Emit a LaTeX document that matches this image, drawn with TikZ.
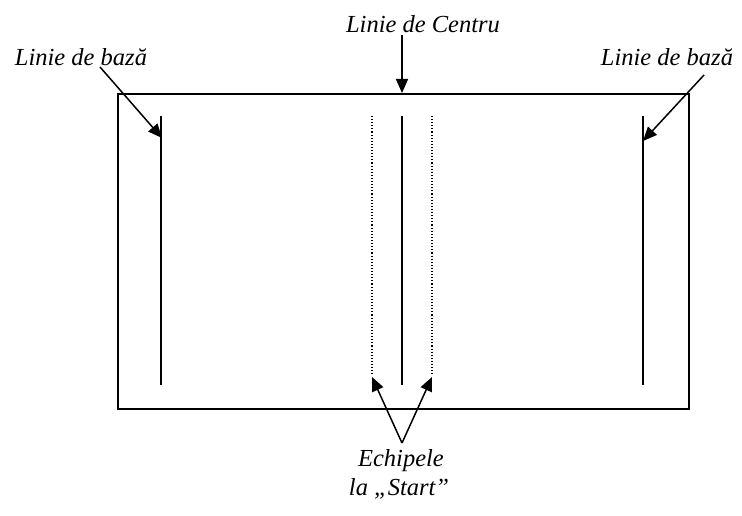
\documentclass[tikz,border=0pt]{standalone}
\usepackage{fontspec}
\setmainfont{Liberation Serif}
\usetikzlibrary{arrows.meta}
\begin{document}
\begin{tikzpicture}[x=1pt,y=-1pt,
  lbl/.style={font=\fontsize{24.5}{28}\selectfont\itshape, inner sep=0pt},
  arr/.style={line width=1.5pt, -{Triangle[length=14pt,width=12pt]}},
  solid line/.style={line width=1.6pt},
  dot line/.style={line width=1.1pt, dotted}]
\useasboundingbox (0,0) rectangle (742,516);
% field
\node[draw, line width=1.8pt, minimum width=571pt, minimum height=315pt, inner sep=0pt, anchor=north west] (field) at (117,93) {};
% lines
\coordinate (lt) at (161,116); \coordinate (lb) at (161,385);
\coordinate (rt) at (643,116); \coordinate (rb) at (643,385);
\coordinate (ct) at (402,116); \coordinate (cb) at (402,385);
\coordinate (dlt) at (372,116); \coordinate (dlb) at (372,376);
\coordinate (drt) at (432,116); \coordinate (drb) at (432,376);
\draw[solid line] (lt) -- (lb);
\draw[solid line] (rt) -- (rb);
\draw[solid line] (ct) -- (cb);
\draw[dot line] (dlt) -- (dlb);
\draw[dot line] (drt) -- (drb);
% labels
\node[lbl] (lbase) at (81,57) {Linie de bază};
\node[lbl] (rbase) at (667,57) {Linie de bază};
\node[lbl] (center) at (423,24) {Linie de Centru};
\node[lbl] (ech) at (401,461) {Echipele};
\node[lbl] (start) at (399,489) {la „Start”};
% arrows
\coordinate (la0) at (100,67); \coordinate (la1) at (162,138);
\coordinate (ra0) at (704,75); \coordinate (ra1) at (643,141);
\coordinate (ca0) at (402,35);
\coordinate (ba0) at (402,443);
\coordinate (ba1) at (372,377); \coordinate (ba2) at (432,377);
\draw[arr] (la0) -- (la1);
\draw[arr] (ra0) -- (ra1);
\draw[arr] (ca0) -- (field.north -| ca0);
\draw[arr] (ba0) -- (ba1);
\draw[arr] (ba0) -- (ba2);
\end{tikzpicture}
\end{document}
